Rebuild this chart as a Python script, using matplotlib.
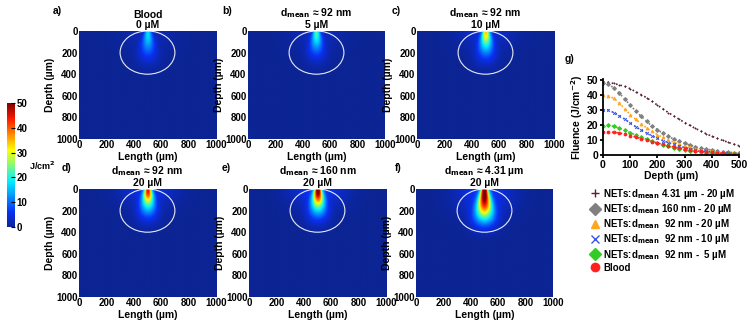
import numpy as np
import matplotlib
matplotlib.use("Agg")
import matplotlib.pyplot as plt
from matplotlib.patches import Ellipse
from matplotlib.lines import Line2D
from matplotlib.colors import LinearSegmentedColormap

plt.rcParams['font.family'] = ['Liberation Sans', 'DejaVu Sans']
plt.rcParams['font.weight'] = 'bold'
plt.rcParams['axes.labelweight'] = 'bold'
plt.rcParams['mathtext.default'] = 'bf'

# depth sampling of the fluence curves (um)
depth = [0, 20, 40, 60, 80, 100, 120, 140, 160, 180, 200, 220, 240, 260,
         280, 300, 320, 340, 360, 380, 400, 420, 440, 460, 480, 500]

f_431um_20 = [49, 48.8, 48, 47, 46, 44.5, 42.5, 40.5, 38.5, 36, 33.5, 31, 28.5,
              26.2, 24, 21.8, 19.8, 17.8, 16, 14.2, 12.6, 11.1, 9.8, 8.5, 7.3, 6.2]
f_160nm_20 = [48, 47.5, 45, 41.5, 37.5, 33.5, 29.5, 26, 22.5, 19.5, 17, 14.6, 12.5,
              10.7, 9.2, 7.8, 6.6, 5.5, 4.6, 3.9, 3.3, 2.7, 2.3, 1.9, 1.6, 1.3]
f_92nm_20 = [40, 39.8, 38, 35, 31, 27, 24, 21, 18.2, 15.8, 13.7, 11.8, 10.1,
             8.6, 7.3, 6.1, 5.1, 4.2, 3.5, 2.9, 2.4, 2.0, 1.6, 1.3, 1.1, 0.9]
f_92nm_10 = [30, 30, 28.5, 26.5, 24, 21.5, 19, 16.8, 14.8, 12.9, 11.2, 9.7, 8.3,
             7.1, 6.0, 5.0, 4.2, 3.5, 2.9, 2.4, 2.0, 1.6, 1.3, 1.1, 0.9, 0.7]
f_92nm_5 = [19.5, 20, 19.2, 18, 16.5, 15, 13.4, 11.9, 10.5, 9.2, 8, 6.9, 5.9,
            5.0, 4.2, 3.5, 2.9, 2.4, 2.0, 1.6, 1.3, 1.1, 0.9, 0.7, 0.6, 0.5]
f_blood = [15.2, 15.3, 15.2, 14.8, 14, 13, 12, 11, 10, 9, 8, 7.1, 6.2,
           5.4, 4.7, 4.0, 3.4, 2.9, 2.4, 2.0, 1.7, 1.4, 1.1, 0.9, 0.7, 0.6]

series = [
    (f_431um_20, "NETs:d$_{mean}$ 4.31 µm - 20 µM", '+', '#5c1f33'),
    (f_160nm_20, "NETs:d$_{mean}$ 160 nm - 20 µM", 'D', '#808080'),
    (f_92nm_20, "NETs:d$_{mean}$  92 nm - 20 µM", '^', '#ffa620'),
    (f_92nm_10, "NETs:d$_{mean}$  92 nm - 10 µM", 'x', '#3a55e6'),
    (f_92nm_5, "NETs:d$_{mean}$  92 nm -  5 µM", 'D', '#33cc22'),
    (f_blood, "Blood", 'o', '#ff2020'),
]

panel_letters = ['a)', 'b)', 'c)', 'd)', 'e)', 'f)']
panel_titles = ["Blood\n0 µM",
                "d$_{mean}$ ≈ 92 nm\n5 µM",
                "d$_{mean}$ ≈ 92 nm\n10 µM",
                "d$_{mean}$ ≈ 92 nm\n20 µM",
                "d$_{mean}$ ≈ 160 nm\n20 µM",
                "d$_{mean}$ ≈ 4.31 µm\n20 µM"]
panel_profiles = [f_blood, f_92nm_5, f_92nm_10, f_92nm_20, f_160nm_20, f_431um_20]

cmap = LinearSegmentedColormap.from_list(
    'jetlike', [(0.0, '#0c2494'), (0.12, '#0a30f5'), (0.37, '#00f0ff'),
                (0.62, '#ffff00'), (0.87, '#ff1a00'), (1.0, '#800000')])

fig = plt.figure(figsize=(7.54, 3.28), dpi=100)
W, H = 754.0, 328.0

lefts = [79, 248, 417, 79, 249, 416]
tops = [31, 31, 31, 189, 189, 189]
letter_xy = [(53, 11), (222, 11), (392, 11), (62, 168), (222, 168), (395, 168)]

xg = np.linspace(0, 1000, 300)
zg = np.linspace(0, 1000, 300)
X, Z = np.meshgrid(xg, zg)

for i in range(6):
    ax = fig.add_axes([lefts[i] / W, 1 - (tops[i] + 108) / H, 137 / W, 108 / H])
    prof = np.interp(Z, depth, panel_profiles[i], right=0)
    sig = 18 + 0.14 * Z
    field = prof * np.exp(-(X - 500) ** 2 / (2 * sig ** 2)) * np.exp(-(Z / 360.0) ** 4)
    field += 0.14 * prof * np.exp(-(X - 500) ** 2 / (2 * 140 ** 2)) * np.exp(-(Z / 320.0) ** 4)
    im = ax.imshow(field, cmap=cmap, vmin=0, vmax=50, extent=[0, 1000, 1000, 0],
                   aspect='auto', interpolation='bilinear')
    ax.add_patch(Ellipse((500, 200), 400, 400, fill=False, edgecolor='white',
                         lw=0.8, alpha=0.9))
    ax.set_xlim(0, 1000)
    ax.set_ylim(1000, 0)
    ax.set_xticks(range(0, 1001, 200))
    ax.set_yticks(range(0, 1001, 200))
    ax.tick_params(labelsize=7, length=0, pad=1)
    for s in ax.spines.values():
        s.set_visible(False)
    ax.set_xlabel("Length (µm)", fontsize=7.5, labelpad=1)
    ax.set_ylabel("Depth (µm)", fontsize=7.5, labelpad=1)
    ax.set_title(panel_titles[i], fontsize=7.5, fontweight='bold', pad=2, linespacing=1.05)
    lx, ly = letter_xy[i]
    fig.text(lx / W, 1 - ly / H, panel_letters[i], fontsize=7.5, fontweight='bold',
             va='center')

# colorbar
cax = fig.add_axes([7 / W, 1 - 227 / H, 8 / W, 124 / H])
cb = fig.colorbar(im, cax=cax, ticks=range(0, 51, 10))
cb.outline.set_visible(False)
cax.tick_params(labelsize=7, length=3, direction='in', pad=1)
fig.text(29 / W, 1 - 166 / H, "J/cm$^{2}$", fontsize=6.5, va='center')

# fluence vs depth
axg = fig.add_axes([603 / W, 1 - 155 / H, 136 / W, 76 / H])
handles = []
for vals, lab, mk, col in series:
    axg.plot(depth, vals, linestyle=':', lw=1.2, color=col, marker=mk, markersize=2,
             markeredgewidth=0.7)
    handles.append(Line2D([], [], linestyle='none', marker=mk, color=col,
                          markersize=6 if mk != '^' else 5.5, markeredgewidth=1))
axg.set_xlim(0, 500)
axg.set_ylim(0, 51)
axg.set_xticks(range(0, 501, 100))
axg.set_yticks(range(0, 51, 10))
for s in ['top', 'right']:
    axg.spines[s].set_visible(False)
for s in ['left', 'bottom']:
    axg.spines[s].set_linewidth(1.3)
axg.tick_params(labelsize=7.5, width=1.3, length=2.5, pad=1)
axg.set_xlabel("Depth (µm)", fontsize=7.5, labelpad=1)
axg.set_ylabel("Fluence (J/cm$^{-2}$)", fontsize=7.5, labelpad=1)
fig.text(565 / W, 1 - 59 / H, "g)", fontsize=7.5, fontweight='bold', va='center')

fig.legend(handles, [s[1] for s in series], loc='upper left',
           bbox_to_anchor=(585 / W, 1 - 183 / H), frameon=False, fontsize=7,
           handletextpad=0.3, labelspacing=0.12, borderaxespad=0, handlelength=1.2)

fig.savefig("out.png", dpi=100)
